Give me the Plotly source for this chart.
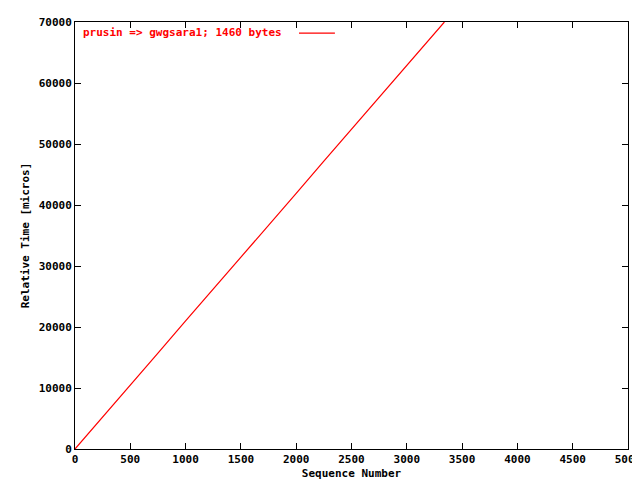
import plotly.graph_objects as go

# sequence number vs relative time (micros)
seq = [0, 250, 500, 750, 1000, 1250, 1500, 1750, 2000, 2250, 2500, 2750, 3000, 3250, 3340]
rel_time = [0, 5200, 10500, 15700, 21000, 26200, 31400, 36700, 41900, 47200, 52400, 57600, 62900, 68100, 70000]
label = "prusin => gwgsara1; 1460 bytes"

font = dict(family="DejaVu Sans Mono", size=11, color="black")

fig = go.Figure()
fig.add_trace(go.Scatter(x=seq, y=rel_time, mode="lines",
                         line=dict(color="red", width=1.2), showlegend=False))

axis = dict(showgrid=False, zeroline=False, showline=True, linecolor="black",
            linewidth=1, mirror="allticks", ticks="inside", ticklen=6,
            tickcolor="black", automargin=False, tickformat="d",
            tickfont=dict(family="DejaVu Sans Mono", size=11, color="black", weight="bold"))
fig.update_xaxes(axis, range=[0, 5000], dtick=500,
                 title=dict(text="<b>Sequence Number</b>", font=font, standoff=4))
fig.update_yaxes(axis, range=[0, 70000], dtick=10000,
                 title=dict(text="<b>Relative Time [micros]</b>", font=font, standoff=6))

fig.add_annotation(x=0.01, y=0.995, xref="paper", yref="paper", xanchor="left",
                   yanchor="top", showarrow=False, text="<b>" + label + "</b>",
                   font=dict(family="DejaVu Sans Mono", size=11, color="red"))
fig.add_shape(type="line", xref="paper", yref="paper", x0=0.405, x1=0.47,
              y0=0.974, y1=0.974, line=dict(color="red", width=1.2))

fig.update_layout(width=640, height=480, plot_bgcolor="white", paper_bgcolor="white",
                  margin=dict(l=67, r=20, t=14, b=39, autoexpand=False))
fig.write_html("out.html")
